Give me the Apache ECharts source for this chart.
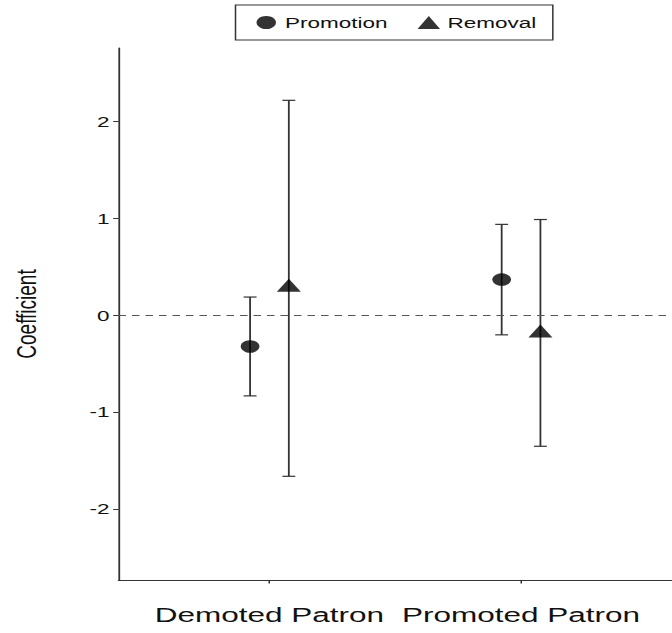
<!DOCTYPE html>
<html><head><meta charset="utf-8">
<script src="https://cdn.jsdelivr.net/npm/echarts@6/dist/echarts.min.js"></script>
<style>
html,body{margin:0;padding:0;background:#fff;overflow:hidden;}
#wrap{width:672px;height:633px;overflow:hidden;}
#chart{width:448px;height:633px;transform:scaleX(1.5);transform-origin:0 0;}
</style></head>
<body><div id="wrap"><div id="chart"></div></div>
<script>
const categories = ['Demoted Patron', 'Promoted Patron'];
const seriesNames = ['Promotion', 'Removal'];
const promotionEst = [-0.32, 0.37];
const promotionLow = [-0.83, -0.20];
const promotionHigh = [0.19, 0.94];
const removalEst = [0.29, -0.18];
const removalLow = [-1.66, -1.35];
const removalHigh = [2.22, 0.99];
const yTicks = [-2, -1, 0, 1, 2];
const xTicks = [1, 2];
const dodge = 0.077;

const FONT = 'Liberation Sans, Arial, sans-serif';
const INK = '#111';

function pts(est, off) { return est.map((v, i) => [i + 1 + off, v]); }
function bars(lo, hi, off) { return lo.map((v, i) => [i + 1 + off, v, hi[i]]); }

function errorBarItem(params, api) {
  const x = api.value(0), lo = api.value(1), hi = api.value(2);
  const pLo = api.coord([x, lo]), pHi = api.coord([x, hi]);
  const cap = 4.3;
  const style = { stroke: '#333', lineWidth: 1.2, fill: null };
  return { type: 'group', children: [
    { type: 'line', shape: { x1: pHi[0], y1: pHi[1], x2: pLo[0], y2: pLo[1] }, style: style },
    { type: 'line', shape: { x1: pHi[0] - cap, y1: pHi[1], x2: pHi[0] + cap, y2: pHi[1] }, style: style },
    { type: 'line', shape: { x1: pLo[0] - cap, y1: pLo[1], x2: pLo[0] + cap, y2: pLo[1] }, style: style }
  ]};
}

const chart = echarts.init(document.getElementById('chart'), null, { renderer: 'svg' });
chart.setOption({
  animation: false,
  backgroundColor: '#fff',
  grid: { left: 78, right: 0, top: 48, bottom: 53, containLabel: false },
  legend: {
    data: [{ name: seriesNames[0], icon: 'circle' }, { name: seriesNames[1], icon: 'triangle' }],
    left: 157, top: 5, orient: 'horizontal',
    itemWidth: 15, itemHeight: 13, itemGap: 20,
    padding: [10, 11, 10, 14],
    borderColor: '#333', borderWidth: 1,
    selectedMode: false,
    textStyle: { fontFamily: FONT, fontSize: 15, color: INK }
  },
  xAxis: {
    type: 'value', min: 0.4, max: 2.6,
    splitLine: { show: false },
    axisLine: { show: true, onZero: false, lineStyle: { color: '#333', width: 1.2 } },
    axisTick: { show: true, length: 3.5, customValues: xTicks, lineStyle: { color: '#333', width: 1 } },
    axisLabel: {
      customValues: xTicks, margin: 24,
      fontFamily: FONT, fontSize: 21, color: INK,
      formatter: v => categories[Math.round(v) - 1]
    }
  },
  yAxis: {
    type: 'value', min: -2.73, max: 2.76,
    name: 'Coefficient', nameLocation: 'middle', nameGap: 52, nameRotate: 90,
    nameTextStyle: { fontFamily: FONT, fontSize: 19, color: INK },
    splitLine: { show: false },
    axisLine: { show: true, onZero: false, lineStyle: { color: '#333', width: 1.2 } },
    axisTick: { show: true, length: 3.5, customValues: yTicks, lineStyle: { color: '#333', width: 1 } },
    axisLabel: { customValues: yTicks, margin: 6, fontFamily: FONT, fontSize: 15, color: INK }
  },
  series: [
    {
      type: 'custom', name: 'ci-promotion', renderItem: errorBarItem,
      data: bars(promotionLow, promotionHigh, -dodge), encode: { x: 0, y: [1, 2] }, z: 2, silent: true,
      markLine: {
        silent: true, symbol: 'none', label: { show: false },
        lineStyle: { color: '#555', width: 1, type: [5, 4] },
        data: [{ yAxis: 0 }]
      }
    },
    {
      type: 'custom', name: 'ci-removal', renderItem: errorBarItem,
      data: bars(removalLow, removalHigh, dodge), encode: { x: 0, y: [1, 2] }, z: 2, silent: true
    },
    {
      type: 'scatter', name: seriesNames[0], data: pts(promotionEst, -dodge),
      symbol: 'circle', symbolSize: 12.5, itemStyle: { color: '#000' }, z: 5
    },
    {
      type: 'scatter', name: seriesNames[1], data: pts(removalEst, dodge),
      symbol: 'triangle', symbolSize: [16, 13], symbolOffset: [0, -2], itemStyle: { color: '#000' }, z: 5
    }
  ]
});
</script>
</body></html>
